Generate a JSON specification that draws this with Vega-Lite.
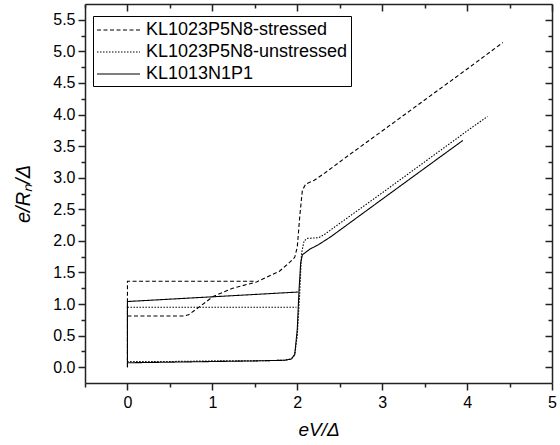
{
  "$schema": "https://vega.github.io/schema/vega-lite/v6.json",
  "width": 467,
  "height": 379,
  "autosize": {"type": "none"},
  "padding": {"left": 85, "top": 4, "right": 8, "bottom": 62},
  "background": "white",
  "config": {
    "view": {"stroke": null},
    "font": "Liberation Sans",
    "axis": {
      "domainColor": "#222222",
      "domainWidth": 1.5,
      "tickColor": "#222222",
      "tickWidth": 1.5,
      "grid": false,
      "labelColor": "black",
      "labelFont": "Liberation Sans",
      "labelFontSize": 16,
      "labelOverlap": false,
      "labelFlush": false,
      "titleFont": "Liberation Sans",
      "titleFontSize": 19,
      "titleFontWeight": "normal",
      "titleColor": "black"
    }
  },
  "data": {
    "values": [
      {"s": "KL1023P5N8-stressed", "g": "S1", "x": 0, "y": 0},
      {"s": "KL1023P5N8-stressed", "g": "S1", "x": 0, "y": 1.36},
      {"s": "KL1023P5N8-stressed", "g": "S1", "x": 1.5, "y": 1.36},
      {"s": "KL1023P5N8-stressed", "g": "S2", "x": 0, "y": 0.81},
      {"s": "KL1023P5N8-stressed", "g": "S2", "x": 0.67, "y": 0.81},
      {"s": "KL1023P5N8-stressed", "g": "S2", "x": 0.72, "y": 0.83},
      {"s": "KL1023P5N8-stressed", "g": "S2", "x": 0.85, "y": 0.96},
      {"s": "KL1023P5N8-stressed", "g": "S2", "x": 1.01, "y": 1.12},
      {"s": "KL1023P5N8-stressed", "g": "S2", "x": 1.24, "y": 1.25},
      {"s": "KL1023P5N8-stressed", "g": "S2", "x": 1.52, "y": 1.35},
      {"s": "KL1023P5N8-stressed", "g": "S2", "x": 1.79, "y": 1.52},
      {"s": "KL1023P5N8-stressed", "g": "S2", "x": 1.91, "y": 1.66},
      {"s": "KL1023P5N8-stressed", "g": "S2", "x": 1.97, "y": 1.74},
      {"s": "KL1023P5N8-stressed", "g": "S2", "x": 2.0, "y": 1.9},
      {"s": "KL1023P5N8-stressed", "g": "S2", "x": 2.03, "y": 2.4},
      {"s": "KL1023P5N8-stressed", "g": "S2", "x": 2.06, "y": 2.8},
      {"s": "KL1023P5N8-stressed", "g": "S2", "x": 2.1, "y": 2.9},
      {"s": "KL1023P5N8-stressed", "g": "S2", "x": 2.2, "y": 2.96},
      {"s": "KL1023P5N8-stressed", "g": "S2", "x": 2.31, "y": 3.06},
      {"s": "KL1023P5N8-stressed", "g": "S2", "x": 2.6, "y": 3.35},
      {"s": "KL1023P5N8-stressed", "g": "S2", "x": 3.0, "y": 3.74},
      {"s": "KL1023P5N8-stressed", "g": "S2", "x": 3.5, "y": 4.23},
      {"s": "KL1023P5N8-stressed", "g": "S2", "x": 4.0, "y": 4.72},
      {"s": "KL1023P5N8-stressed", "g": "S2", "x": 4.42, "y": 5.14},
      {"s": "KL1023P5N8-unstressed", "g": "U1", "x": 0, "y": 0.95},
      {"s": "KL1023P5N8-unstressed", "g": "U1", "x": 1.99, "y": 0.95},
      {"s": "KL1023P5N8-unstressed", "g": "U2", "x": 0, "y": 0.95},
      {"s": "KL1023P5N8-unstressed", "g": "U2", "x": 0, "y": 0.09},
      {"s": "KL1023P5N8-unstressed", "g": "U2", "x": 0.5, "y": 0.09},
      {"s": "KL1023P5N8-unstressed", "g": "U2", "x": 1.0, "y": 0.1},
      {"s": "KL1023P5N8-unstressed", "g": "U2", "x": 1.5, "y": 0.1},
      {"s": "KL1023P5N8-unstressed", "g": "U2", "x": 1.85, "y": 0.11},
      {"s": "KL1023P5N8-unstressed", "g": "U2", "x": 1.93, "y": 0.13},
      {"s": "KL1023P5N8-unstressed", "g": "U2", "x": 1.97, "y": 0.2},
      {"s": "KL1023P5N8-unstressed", "g": "U2", "x": 2.0, "y": 0.5},
      {"s": "KL1023P5N8-unstressed", "g": "U2", "x": 2.03, "y": 1.2},
      {"s": "KL1023P5N8-unstressed", "g": "U2", "x": 2.05, "y": 1.8},
      {"s": "KL1023P5N8-unstressed", "g": "U2", "x": 2.08, "y": 2.0},
      {"s": "KL1023P5N8-unstressed", "g": "U2", "x": 2.12, "y": 2.04},
      {"s": "KL1023P5N8-unstressed", "g": "U2", "x": 2.25, "y": 2.05},
      {"s": "KL1023P5N8-unstressed", "g": "U2", "x": 2.32, "y": 2.1},
      {"s": "KL1023P5N8-unstressed", "g": "U2", "x": 2.42, "y": 2.2},
      {"s": "KL1023P5N8-unstressed", "g": "U2", "x": 3.0, "y": 2.76},
      {"s": "KL1023P5N8-unstressed", "g": "U2", "x": 3.5, "y": 3.25},
      {"s": "KL1023P5N8-unstressed", "g": "U2", "x": 4.0, "y": 3.74},
      {"s": "KL1023P5N8-unstressed", "g": "U2", "x": 4.24, "y": 3.97},
      {"s": "KL1013N1P1", "g": "K1", "x": 0, "y": 0},
      {"s": "KL1013N1P1", "g": "K1", "x": 0, "y": 1.04},
      {"s": "KL1013N1P1", "g": "K1", "x": 2.01, "y": 1.19},
      {"s": "KL1013N1P1", "g": "K2", "x": 0, "y": 0.07},
      {"s": "KL1013N1P1", "g": "K2", "x": 0.5, "y": 0.08},
      {"s": "KL1013N1P1", "g": "K2", "x": 1.0, "y": 0.09},
      {"s": "KL1013N1P1", "g": "K2", "x": 1.5, "y": 0.1},
      {"s": "KL1013N1P1", "g": "K2", "x": 1.85, "y": 0.11},
      {"s": "KL1013N1P1", "g": "K2", "x": 1.93, "y": 0.13},
      {"s": "KL1013N1P1", "g": "K2", "x": 1.97, "y": 0.2},
      {"s": "KL1013N1P1", "g": "K2", "x": 2.0, "y": 0.6},
      {"s": "KL1013N1P1", "g": "K2", "x": 2.02, "y": 1.2},
      {"s": "KL1013N1P1", "g": "K2", "x": 2.04, "y": 1.65},
      {"s": "KL1013N1P1", "g": "K2", "x": 2.06, "y": 1.78},
      {"s": "KL1013N1P1", "g": "K2", "x": 2.15, "y": 1.87},
      {"s": "KL1013N1P1", "g": "K2", "x": 2.25, "y": 1.94},
      {"s": "KL1013N1P1", "g": "K2", "x": 2.4, "y": 2.07},
      {"s": "KL1013N1P1", "g": "K2", "x": 3.0, "y": 2.66},
      {"s": "KL1013N1P1", "g": "K2", "x": 3.5, "y": 3.15},
      {"s": "KL1013N1P1", "g": "K2", "x": 3.95, "y": 3.59}
    ]
  },
  "layer": [
    {
      "mark": {"type": "line", "color": "black", "strokeWidth": 1.1, "clip": true},
      "encoding": {
        "x": {
          "field": "x", "type": "quantitative",
          "scale": {"domain": [-0.5, 5], "nice": false, "zero": false},
          "axis": {
            "orient": "bottom",
            "title": "eV/Δ",
            "titleFontStyle": "italic",
            "titlePadding": 10,
            "values": [-0.5, 0, 0.5, 1, 1.5, 2, 2.5, 3, 3.5, 4, 4.5, 5],
            "labelExpr": "datum.value % 1 === 0 ? format(datum.value, 'd') : ''",
            "tickSize": {"condition": {"test": "datum.value % 1 !== 0", "value": 4}, "value": 7},
            "labelPadding": 4
          }
        },
        "y": {
          "field": "y", "type": "quantitative",
          "scale": {"domain": [-0.25, 5.75], "nice": false, "zero": false},
          "axis": {
            "orient": "left",
            "title": "e/Rₙ/Δ",
            "titleFontStyle": "italic",
            "titleFontSize": 20,
            "titlePadding": 19,
            "values": [0, 0.25, 0.5, 0.75, 1, 1.25, 1.5, 1.75, 2, 2.25, 2.5, 2.75, 3, 3.25, 3.5, 3.75, 4, 4.25, 4.5, 4.75, 5, 5.25, 5.5],
            "labelExpr": "datum.value % 0.5 === 0 ? format(datum.value, '.1f') : ''",
            "tickSize": {"condition": {"test": "datum.value % 0.5 !== 0", "value": 4}, "value": 7},
            "labelPadding": 3
          }
        },
        "detail": {"field": "g"},
        "order": {"value": null},
        "strokeDash": {
          "field": "s", "type": "nominal",
          "scale": {
            "domain": ["KL1023P5N8-stressed", "KL1023P5N8-unstressed", "KL1013N1P1"],
            "range": [[4, 2.5], [1.5, 1.5], [1, 0]]
          },
          "legend": {
            "title": null,
            "orient": "none",
            "legendX": 8,
            "legendY": 12,
            "strokeColor": "black",
            "fillColor": "white",
            "padding": 3,
            "symbolType": "M-1,0H3.3",
            "symbolSize": 400,
            "symbolStrokeWidth": 1.1,
            "symbolStrokeColor": "black",
            "labelFont": "Liberation Sans",
            "labelFontSize": 18,
            "labelColor": "black",
            "labelLimit": 0,
            "labelOffset": 28,
            "rowPadding": 2
          }
        }
      }
    },
    {
      "mark": {"type": "line", "opacity": 0},
      "encoding": {
        "x": {
          "field": "x", "type": "quantitative",
          "scale": {"domain": [-0.5, 5], "nice": false, "zero": false},
          "axis": {
            "orient": "top",
            "title": null,
            "labels": false,
            "values": [-0.5, 0, 0.5, 1, 1.5, 2, 2.5, 3, 3.5, 4, 4.5, 5],
            "tickSize": {"condition": {"test": "datum.value % 1 !== 0", "value": -4}, "value": -7}
          }
        },
        "y": {
          "field": "y", "type": "quantitative",
          "scale": {"domain": [-0.25, 5.75], "nice": false, "zero": false},
          "axis": {
            "orient": "right",
            "title": null,
            "labels": false,
            "values": [0, 0.25, 0.5, 0.75, 1, 1.25, 1.5, 1.75, 2, 2.25, 2.5, 2.75, 3, 3.25, 3.5, 3.75, 4, 4.25, 4.5, 4.75, 5, 5.25, 5.5],
            "tickSize": {"condition": {"test": "datum.value % 0.5 !== 0", "value": -4}, "value": -7}
          }
        },
        "detail": {"field": "g"}
      }
    }
  ],
  "resolve": {"axis": {"x": "independent", "y": "independent"}}
}
